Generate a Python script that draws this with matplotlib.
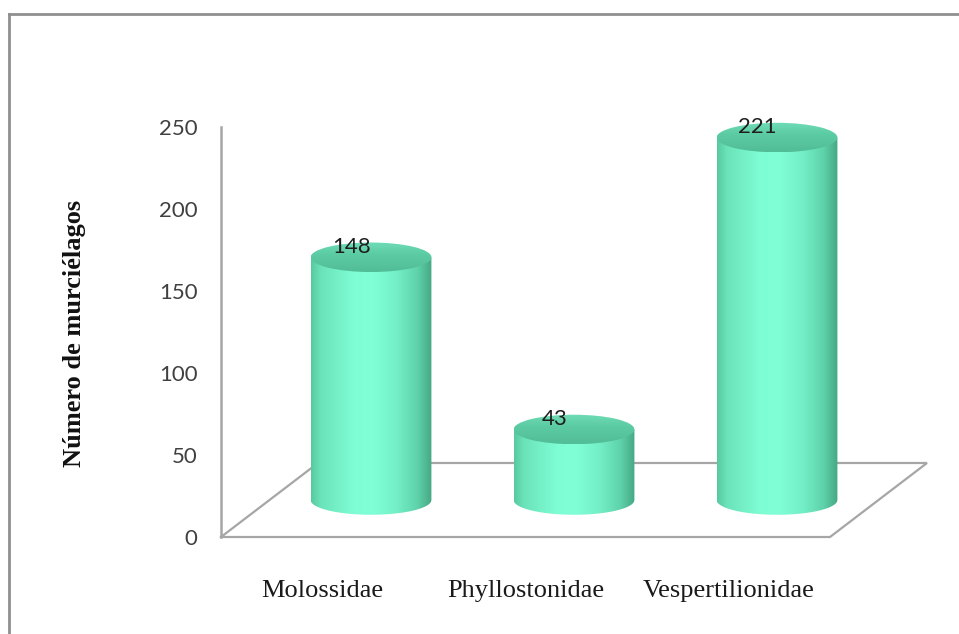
import numpy as np
import matplotlib
matplotlib.use("Agg")
import matplotlib.pyplot as plt
from matplotlib.patches import Ellipse, PathPatch
from matplotlib.path import Path
from matplotlib.lines import Line2D
from matplotlib.colors import LinearSegmentedColormap

# ---- data -------------------------------------------------------------
families = ["Molossidae", "Phyllostonidae", "Vespertilionidae"]
counts = [148, 43, 221]
y_ticks = [0, 50, 100, 150, 200, 250]
y_label = "Número de murciélagos"

# ---- figure / front plane of the 3-D box --------------------------------
W, H = 959, 634
fig = plt.figure(figsize=(W / 100, H / 100), dpi=100)
fig.patch.set_facecolor("white")

x0, x1 = 221, 830          # front plane, pixels
ytop, ybot = 127, 537
px_cat = (x1 - x0) / 3     # pixels per category
px_val = (ybot - ytop) / 250  # pixels per count

# the axes reaches past the front plane so the depth part is not clipped
x_ext, y_ext = 940, 95
ax = fig.add_axes([x0 / W, 1 - ybot / H, (x_ext - x0) / W, (ybot - y_ext) / H])
ax.set_facecolor("none")
XLIM = (-0.5, 2.5)
YLIM = (0, 250)
view_x = (XLIM[0], XLIM[1] + (x_ext - x1) / px_cat)
view_y = (YLIM[0], YLIM[1] + (ytop - y_ext) / px_val)

# depth of the floor expressed in data units (right / up)
DEPTH_X = 97 / px_cat
DEPTH_Y = 74 / px_val

axis_col = "#a6a6a6"
# floor outline
fx0, fx1 = XLIM
floor = [(fx0, 0), (fx1, 0), (fx1 + DEPTH_X, DEPTH_Y), (fx0 + DEPTH_X, DEPTH_Y), (fx0, 0)]
fxs, fys = zip(*floor)
ax.plot(fxs, fys, color=axis_col, lw=1.6, clip_on=False, zorder=1,
        solid_joinstyle="miter")
# vertical axis line
ax.plot([fx0, fx0], [0, YLIM[1]], color=axis_col, lw=1.8, clip_on=False, zorder=1)

# ---- cylinder colours ---------------------------------------------------
body_cmap = LinearSegmentedColormap.from_list(
    "body",
    [(0.0, "#58c9a0"), (0.08, "#6be3ba"), (0.35, "#7efcd3"), (0.5, "#80ffd6"),
     (0.7, "#74f0c8"), (0.88, "#5fd3ab"), (1.0, "#45a884")])
top_cmap = LinearSegmentedColormap.from_list(
    "top", [(0.0, "#52bd97"), (0.6, "#5ccca5"), (1.0, "#6fdcb6")])

a = 0.2975       # half width of a cylinder, category units
b = 9.0          # half height of the end ellipses, value units
base = DEPTH_Y / 2
grad = np.linspace(0, 1, 256)[None, :]
vgrad = np.linspace(0, 1, 128)[:, None]

for i, (name, v) in enumerate(zip(families, counts)):
    cx = i + DEPTH_X / 2
    top = base + v
    # body outline: straight sides + lower half of the base ellipse
    t = np.linspace(np.pi, 2 * np.pi, 60)
    verts = [(cx - a, top)]
    verts += [(cx + a * np.cos(tt), base + b * np.sin(tt)) for tt in t]
    verts += [(cx + a, top), (cx - a, top)]
    body = PathPatch(Path(verts), facecolor="none", edgecolor="none", zorder=3)
    ax.add_patch(body)
    im = ax.imshow(grad, extent=(cx - a, cx + a, base - b, top), aspect="auto",
                   cmap=body_cmap, vmin=0, vmax=1, zorder=3, interpolation="bilinear",
                   origin="lower")
    im.set_clip_path(body)

    # top cap
    cap = Ellipse((cx, top), 2 * a, 2 * b, facecolor="none", edgecolor="none", zorder=4)
    ax.add_patch(cap)
    imc = ax.imshow(vgrad, extent=(cx - a, cx + a, top - b, top + b), aspect="auto",
                    cmap=top_cmap, vmin=0, vmax=1, zorder=4, interpolation="bilinear",
                    origin="lower")
    imc.set_clip_path(cap)

    ax.annotate(str(v), (cx, top), xytext=(-14.0, 7.5), textcoords="offset points",
                ha="center", va="center", fontsize=16, color="#1e1e1e",
                family="Lato", zorder=6, annotation_clip=False)

ax.set_xlim(*view_x)
ax.set_ylim(*view_y)
for s in ax.spines.values():
    s.set_visible(False)

ax.set_yticks(y_ticks)
ax.set_yticklabels([str(t) for t in y_ticks], family="Lato", fontsize=16, color="#404040")
ax.tick_params(axis="y", length=0, pad=17)
ax.set_xticks(range(len(families)))
ax.set_xticklabels(families, family="Liberation Serif", fontsize=19, color="#1a1a1a")
ax.tick_params(axis="x", length=0, pad=31)

fig.text(75 / W, 1 - 333 / H, y_label, rotation=90, ha="center", va="center",
         family="Liberation Serif", fontweight="bold", fontsize=19, color="#111111")

# chart frame (top and left edges)
fig.add_artist(Line2D([9 / W, 9 / W], [0, 1 - 14 / H], transform=fig.transFigure,
                      color="#8f8f8f", lw=2.0))
fig.add_artist(Line2D([9 / W, 1], [1 - 14 / H, 1 - 14 / H], transform=fig.transFigure,
                      color="#8f8f8f", lw=2.0))

fig.savefig("out.png", dpi=100, facecolor="white")
